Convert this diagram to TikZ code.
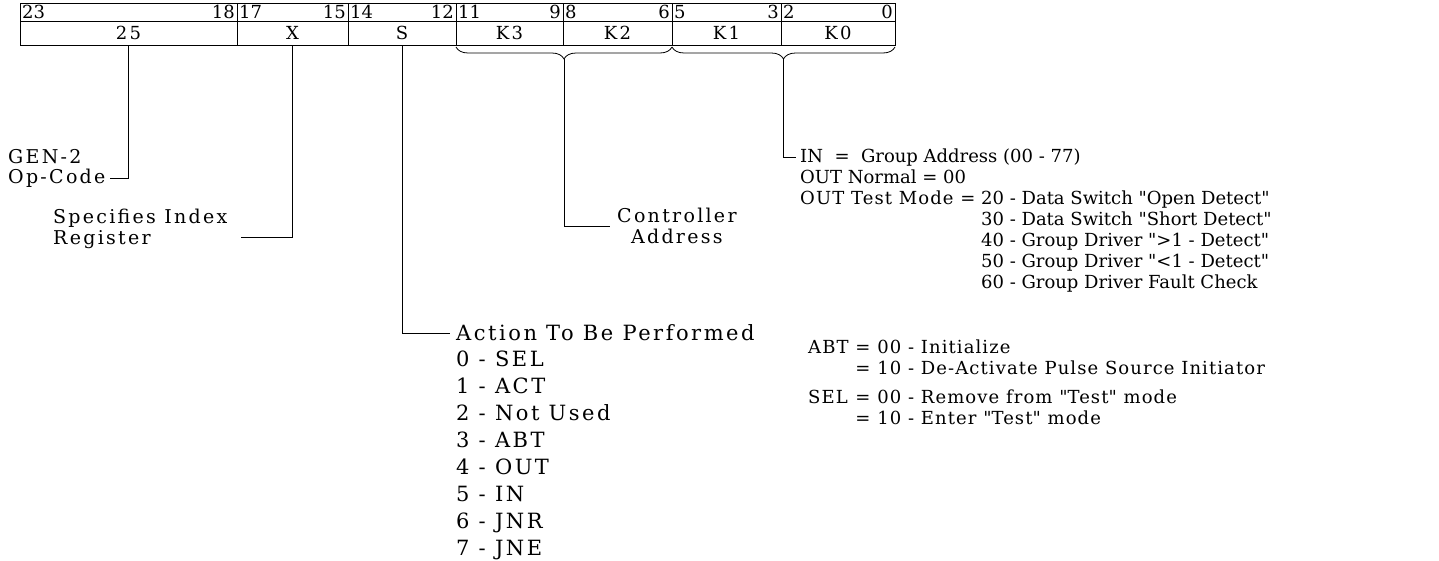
\documentclass[tikz,border=0pt]{standalone}
\usepackage{fontspec}
\setmainfont{DejaVu Serif}
\newfontfamily\spacedserif[LetterSpace=12]{DejaVu Serif}
\newfontfamily\looseserif[LetterSpace=6]{DejaVu Serif}
\newcommand\qt{\textquotedbl}
\usepackage{tikz}
\usetikzlibrary{positioning,calc,decorations.pathreplacing}

\begin{document}
\begin{tikzpicture}[x=1pt, y=-1pt,
    bitbox/.style={draw, line width=1pt, minimum height=18pt, inner sep=0pt, outer sep=0pt},
    fieldbox/.style={draw, line width=1pt, minimum height=24pt, inner sep=0pt, outer sep=0pt, font=\spacedserif\fontsize{18}{20}\selectfont},
    bitno/.style={inner sep=2pt, font=\fontsize{18}{20}\selectfont},
    lbl/.style={inner sep=0pt, anchor=west, font=\spacedserif\fontsize{19}{21}\selectfont},
    note/.style={inner sep=0pt, anchor=base west, font=\fontsize{18}{21}\selectfont},
    lead/.style={line width=0.7pt},
    fieldbrace/.style={decorate, decoration={brace, mirror, amplitude=12pt}, line width=0.8pt}]
  \useasboundingbox (0,0) rectangle (1439,560);

  % Instruction word: field row
  \node[fieldbox, anchor=north west, minimum width=217pt] (opf) at (20,21) {25};
  \node[fieldbox, minimum width=111pt, right=0pt of opf] (xf) {X};
  \node[fieldbox, minimum width=108pt, right=0pt of xf] (sf) {S};
  \node[fieldbox, minimum width=107pt, right=0pt of sf] (k3f) {K3};
  \node[fieldbox, minimum width=109pt, right=0pt of k3f] (k2f) {K2};
  \node[fieldbox, minimum width=109pt, right=0pt of k2f] (k1f) {K1};
  \node[fieldbox, minimum width=114pt, right=0pt of k1f] (k0f) {K0};

  % Instruction word: bit row
  \node[bitbox, minimum width=217pt, above=0pt of opf] (bop) {};
  \node[bitbox, minimum width=111pt, above=0pt of xf] (bx) {};
  \node[bitbox, minimum width=108pt, above=0pt of sf] (bs) {};
  \node[bitbox, minimum width=107pt, above=0pt of k3f] (bk3) {};
  \node[bitbox, minimum width=109pt, above=0pt of k2f] (bk2) {};
  \node[bitbox, minimum width=109pt, above=0pt of k1f] (bk1) {};
  \node[bitbox, minimum width=114pt, above=0pt of k0f] (bk0) {};
  \node[bitno, anchor=west] at (bop.west) {23};
  \node[bitno, anchor=east] at (bop.east) {18};
  \node[bitno, anchor=west] at (bx.west) {17};
  \node[bitno, anchor=east] at (bx.east) {15};
  \node[bitno, anchor=west] at (bs.west) {14};
  \node[bitno, anchor=east] at (bs.east) {12};
  \node[bitno, anchor=west] at (bk3.west) {11};
  \node[bitno, anchor=east] at (bk3.east) {9};
  \node[bitno, anchor=west] at (bk2.west) {8};
  \node[bitno, anchor=east] at (bk2.east) {6};
  \node[bitno, anchor=west] at (bk1.west) {5};
  \node[bitno, anchor=east] at (bk1.east) {3};
  \node[bitno, anchor=west] at (bk0.west) {2};
  \node[bitno, anchor=east] at (bk0.east) {0};

  % Op-code and index register
  \node[lbl] (gen) at (8,157) {GEN-2};
  \node[lbl] (opc) at (8,178) {Op-Code};
  \draw[lead] (opf.south) |- ([xshift=4pt]opc.east);
  \node[lbl, align=left] (idx) at (53,229) {Specifies Index\\Register};
  \draw[lead] (xf.south) |- ([xshift=14pt, yshift=-8pt]idx.east);

  % Action field
  \node[lbl, font=\spacedserif\fontsize{21}{27}\selectfont] (act) at (456,333) {Action To Be Performed};
  \draw[lead] (sf.south) |- ([xshift=-6pt]act.west);
  \node[lbl, anchor=north west, align=left, font=\spacedserif\fontsize{21}{27}\selectfont] (codes) at (456,351)
    {0 - SEL\\1 - ACT\\2 - Not Used\\3 - ABT\\4 - OUT\\5 - IN\\6 - JNR\\7 - JNE};

  % Controller address
  \draw[fieldbrace] ([yshift=-2pt]k3f.south west) -- ([yshift=-2pt]k2f.south east);
  \coordinate (ctip) at ($(k3f.south west)!0.5!(k2f.south east)+(0,14)$);
  \node[lbl, align=center] (ctrl) at (617,226) {Controller\\Address};
  \draw[lead] (ctip) |- ([xshift=-7pt]ctrl.west);

  % Group address / modes
  \draw[fieldbrace] ([yshift=-2pt]k1f.south west) -- ([yshift=-2pt]k0f.south east);
  \coordinate (itip) at ($(k1f.south west)!0.5!(k0f.south east)+(0,14)$);
  \node[note] (inl) at (800,162) {IN\ \ =\ \ Group Address (00 - 77)};
  \draw[lead] (itip) |- ([xshift=-4pt]inl.west);
  \node[note] (outl) at (800,183) {\begin{tabular}[t]{@{}l@{\ }l@{}}
    \multicolumn{2}{@{}l@{}}{OUT Normal = 00}\\
    {\looseserif OUT Test Mode =} & 20 - Data Switch \qt Open Detect\qt\\
    & 30 - Data Switch \qt Short Detect\qt\\
    & 40 - Group Driver \qt>1 - Detect\qt\\
    & 50 - Group Driver \qt<1 - Detect\qt\\
    & 60 - Group Driver Fault Check
  \end{tabular}};
  \node[note, font=\looseserif\fontsize{18}{21}\selectfont] (abt) at (808,353) {\begin{tabular}[t]{@{}l@{ }l@{}}
    ABT & = 00 - Initialize\\
    & = 10 - De-Activate Pulse Source Initiator\\[8pt]
    SEL & = 00 - Remove from \qt Test\qt\ mode\\
    & = 10 - Enter \qt Test\qt\ mode
  \end{tabular}};
\end{tikzpicture}
\end{document}
